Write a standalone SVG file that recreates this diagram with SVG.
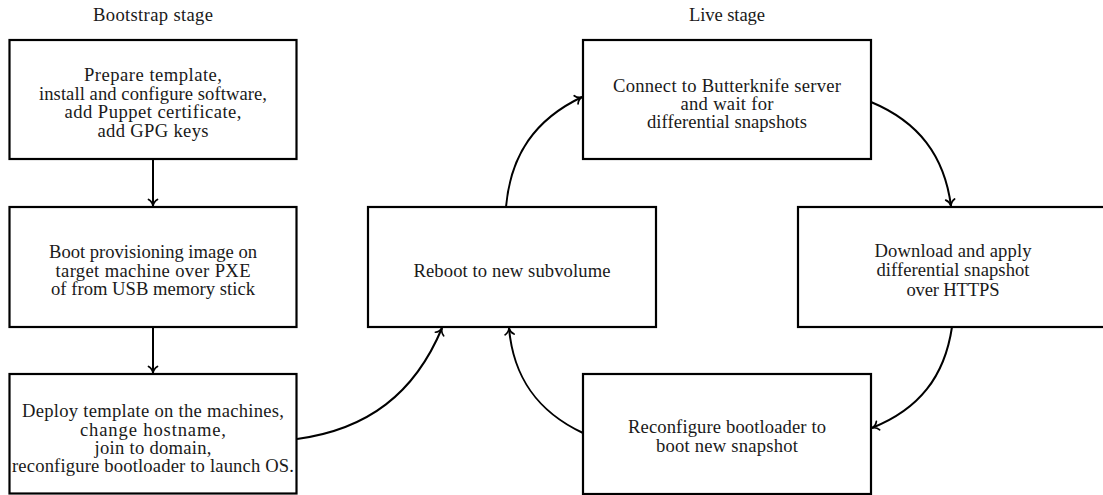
<svg xmlns="http://www.w3.org/2000/svg" width="1103" height="495" viewBox="0 0 1103 495">
  <style>
    .box { fill: #ffffff; stroke: #000000; stroke-width: 2.2; }
    .lbl { font-family: "Liberation Serif", "Times New Roman", serif; font-size: 18.6px; fill: #1a1a1a; text-anchor: middle; }
    .edge { fill: none; stroke: #000000; stroke-width: 2; marker-end: url(#tip); }
  </style>
  <defs>
    <marker id="tip" markerUnits="userSpaceOnUse" orient="auto" viewBox="-8 -6 10 12" markerWidth="10" markerHeight="12" refX="0" refY="0" overflow="visible">
      <path d="M -6.5,-4.5 C -5,-1.8 -1.8,-0.3 0,0 C -1.8,0.3 -5,1.8 -6.5,4.5" fill="none" stroke="#000000" stroke-width="1.7" stroke-linecap="round" stroke-linejoin="round"/>
    </marker>
  </defs>

  <!-- stage headings -->
  <text class="lbl" x="153" y="21" textLength="120" lengthAdjust="spacing">Bootstrap stage</text>
  <text class="lbl" x="727" y="21" textLength="76" lengthAdjust="spacing">Live stage</text>

  <!-- connectors -->
  <g id="connectors">
    <path class="edge" d="M 153,159 L 153,206"/>
    <path class="edge" d="M 153,327 L 153,373"/>
    <path class="edge" d="M 297,439 C 368.1,429.4 414.8,393.3 442,328"/>
    <path class="edge" d="M 506,207 C 510.6,154.6 535.3,119.2 582,97"/>
    <path class="edge" d="M 871,102 C 918.7,121.9 944.4,155.7 951,206"/>
    <path class="edge" d="M 952,327 C 944.6,376.9 918.9,409.4 872,428"/>
    <path class="edge" d="M 583,433 C 537.2,411.5 513.3,377.4 509,328"/>
  </g>

  <!-- bootstrap stage -->
  <g id="prepare">
    <rect class="box" x="9.5" y="40" width="287" height="119"/>
    <text class="lbl" x="153" y="81" textLength="138" lengthAdjust="spacing">Prepare template,</text>
    <text class="lbl" x="153" y="99.5" textLength="228" lengthAdjust="spacing">install and configure software,</text>
    <text class="lbl" x="153" y="118" textLength="177" lengthAdjust="spacing">add Puppet certificate,</text>
    <text class="lbl" x="153" y="136.5" textLength="111" lengthAdjust="spacing">add GPG keys</text>
  </g>
  <g id="boot-provisioning">
    <rect class="box" x="9.5" y="207" width="287" height="120"/>
    <text class="lbl" x="153" y="258" textLength="208" lengthAdjust="spacing">Boot provisioning image on</text>
    <text class="lbl" x="153" y="276.5" textLength="195" lengthAdjust="spacing">target machine over PXE</text>
    <text class="lbl" x="153" y="295" textLength="204" lengthAdjust="spacing">of from USB memory stick</text>
  </g>
  <g id="deploy">
    <rect class="box" x="9.5" y="374" width="287" height="119.5"/>
    <text class="lbl" x="153" y="417" textLength="262" lengthAdjust="spacing">Deploy template on the machines,</text>
    <text class="lbl" x="153" y="435.5" textLength="146" lengthAdjust="spacing">change hostname,</text>
    <text class="lbl" x="153" y="453.5" textLength="117" lengthAdjust="spacing">join to domain,</text>
    <text class="lbl" x="153" y="472" textLength="282" lengthAdjust="spacing">reconfigure bootloader to launch OS.</text>
  </g>

  <!-- live stage -->
  <g id="reboot">
    <rect class="box" x="368" y="207" width="288" height="120"/>
    <text class="lbl" x="512" y="277" textLength="197" lengthAdjust="spacing">Reboot to new subvolume</text>
  </g>
  <g id="connect">
    <rect class="box" x="583" y="40" width="288" height="119"/>
    <text class="lbl" x="727" y="92" textLength="228" lengthAdjust="spacing">Connect to Butterknife server</text>
    <text class="lbl" x="727" y="110" textLength="93" lengthAdjust="spacing">and wait for</text>
    <text class="lbl" x="727" y="128" textLength="160" lengthAdjust="spacing">differential snapshots</text>
  </g>
  <g id="download">
    <rect class="box" x="798" y="207" width="310" height="120"/>
    <text class="lbl" x="953" y="257" textLength="157" lengthAdjust="spacing">Download and apply</text>
    <text class="lbl" x="953" y="276" textLength="153" lengthAdjust="spacing">differential snapshot</text>
    <text class="lbl" x="953" y="295.5" textLength="93" lengthAdjust="spacing">over HTTPS</text>
  </g>
  <g id="reconfigure">
    <rect class="box" x="583" y="374" width="288" height="120"/>
    <text class="lbl" x="727" y="433" textLength="198" lengthAdjust="spacing">Reconfigure bootloader to</text>
    <text class="lbl" x="727" y="452" textLength="142" lengthAdjust="spacing">boot new snapshot</text>
  </g>
</svg>
